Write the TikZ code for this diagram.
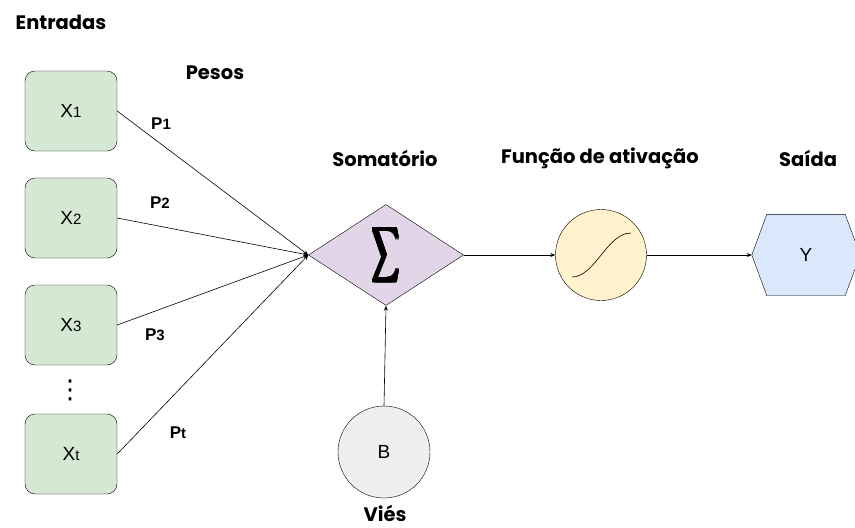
\documentclass[tikz,border=0pt]{standalone}
\usepackage{amsmath}
\usepackage{graphicx}
\usepackage{fontspec}
\setmainfont{Liberation Sans}
\newfontfamily\titlefont{Poppins}
\newfontfamily\simbolos{DejaVu Sans}
\usepackage{tikz}
\usetikzlibrary{shapes.geometric,arrows.meta,backgrounds}

\definecolor{verdeentrada}{HTML}{D5E8D4}
\definecolor{roxosoma}{HTML}{E1D5E7}
\definecolor{amareloativ}{HTML}{FFF2CC}
\definecolor{azulsaida}{HTML}{DAE8FC}
\definecolor{cinzavies}{HTML}{EEEEEE}

\newcommand{\ind}[1]{{\fontsize{15}{15}\selectfont #1}}
\newcommand{\sigmafina}{\resizebox{26pt}{40pt}{$\displaystyle\sum$}}
\newcommand{\sigmagrossa}{\foreach \dx in {0,0.8,1.6,2.4}{\foreach \dy in {0,0.7,1.4,2.1}{\makebox[0pt][l]{\hspace*{\dx pt}\raisebox{\dy pt}{\sigmafina}}}}\hspace*{2.4pt}\phantom{\sigmafina}}

\begin{document}
\begin{tikzpicture}[x=1pt,y=-1pt,
    entrada/.style={draw, rounded corners=10pt, fill=verdeentrada, minimum width=92pt, minimum height=80pt, font=\fontsize{19}{21}\selectfont},
    titulo/.style={font=\titlefont\bfseries\fontsize{19.5}{22}\selectfont},
    peso/.style={font=\bfseries\fontsize{17}{19}\selectfont},
    seta/.style={-{Stealth[length=5pt,width=4pt]}, line width=0.6pt}]
    \useasboundingbox (0,0) rectangle (855,528);

    % entradas
    \node[entrada] (x1) at (71,111) {X\ind{1}};
    \node[entrada] (x2) at (71,218) {X\ind{2}};
    \node[entrada] (x3) at (71,325) {X\ind{3}};
    \node[entrada] (xt) at (71,454) {X\ind{t}};
    \node[font=\simbolos\fontsize{26}{26}\selectfont, inner sep=0pt] (pontos) at (70,390) {⋮};

    % soma, ativacao, saida
    \node[draw, diamond, aspect=1.5, fill=roxosoma, minimum width=155pt, minimum height=101pt, inner sep=0pt] (soma) at (386,255) {\sigmagrossa};
    \node[draw, circle, fill=amareloativ, minimum size=91pt, inner sep=0pt] (ativ) at (601,255) {};
    \draw[line width=0.6pt] ([shift={(-29,22)}]ativ.center) .. controls ([shift={(-6,22)}]ativ.center) and ([shift={(6,-22)}]ativ.center) .. ([shift={(30,-22)}]ativ.center);
    \node[minimum width=108pt, minimum height=81pt, inner sep=0pt, font=\fontsize{19}{21}\selectfont] (saida) at (806,255) {Y};
    \begin{scope}[on background layer]
        \draw[fill=azulsaida] (saida.west) -- ([xshift=15pt]saida.north west) -- ([xshift=-15pt]saida.north east) -- (saida.east) -- ([xshift=-15pt]saida.south east) -- ([xshift=15pt]saida.south west) -- cycle;
    \end{scope}
    \node[draw, circle, fill=cinzavies, minimum size=92pt, inner sep=0pt, font=\fontsize{19}{21}\selectfont] (vies) at (384,452) {B};

    % conexoes
    \draw[seta] (x1.east) -- (soma.west);
    \draw[seta] (x2.east) -- (soma.west);
    \draw[seta] (x3.east) -- (soma.west);
    \draw[seta] (xt.east) -- (soma.west);
    \draw[seta] (soma.east) -- (ativ.west);
    \draw[seta] (ativ.east) -- (saida.west);
    \draw[seta] (vies.north) -- (soma.south);

    % textos
    \node[titulo] (tentradas) at (61,22) {Entradas};
    \node[titulo] (tpesos) at (215,73) {Pesos};
    \node[titulo] (tsoma) at (385,158) {Somatório};
    \node[titulo] (tativ) at (600,158) {Função de ativação};
    \node[titulo] (tsaida) at (808,158) {Saída};
    \node[titulo] (tvies) at (385,513) {Viés};
    \node[peso] (p1) at (161,124) {P\ind{1}};
    \node[peso] (p2) at (160,203) {P\ind{2}};
    \node[peso] (p3) at (155,335) {P\ind{3}};
    \node[peso] (pt) at (178,433) {P\ind{t}};
\end{tikzpicture}
\end{document}
